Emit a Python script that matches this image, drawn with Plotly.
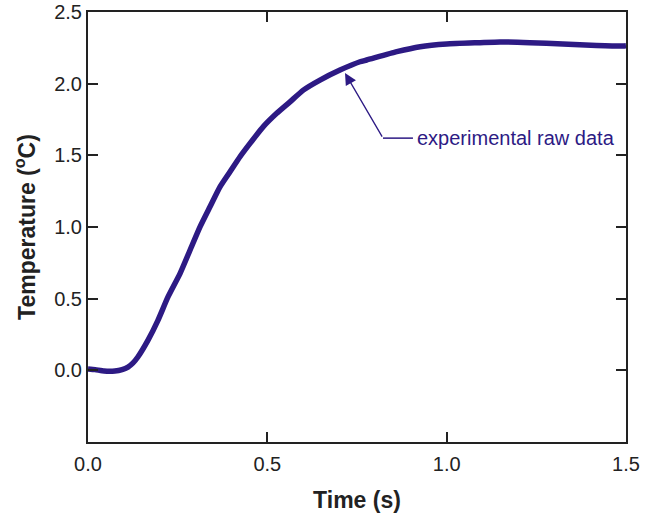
import plotly.graph_objects as go

time_s = [0.0, 0.02, 0.045, 0.075, 0.095, 0.1115, 0.125, 0.139, 0.167, 0.195, 0.223, 0.2565,
          0.2844, 0.3123, 0.3401, 0.368, 0.3959, 0.4238, 0.4517, 0.4888, 0.5261, 0.5632,
          0.6003, 0.6468, 0.7026, 0.7584, 0.777, 0.861, 0.926, 1.000, 1.093, 1.149, 1.232,
          1.324, 1.418, 1.492, 1.5]
temp_c = [0.01, 0.005, -0.005, -0.005, 0.005, 0.023, 0.05, 0.093, 0.209, 0.349, 0.512, 0.675,
          0.838, 1.001, 1.141, 1.280, 1.385, 1.490, 1.583, 1.700, 1.793, 1.873,
          1.955, 2.025, 2.095, 2.153, 2.165, 2.223, 2.258, 2.277, 2.286, 2.291, 2.286,
          2.277, 2.267, 2.263, 2.265]

x_ticks = [0.0, 0.5, 1.0, 1.5]
y_ticks = [0.0, 0.5, 1.0, 1.5, 2.0, 2.5]

arrow_tip = (0.7165, 2.074)
arrow_tail = (0.8225, 1.62)
leader_end = 0.906
label_x = 0.912

line_color = "#2d1a84"
axis_color = "#222222"
font_family = "Liberation Sans, Arial"

fig = go.Figure()
fig.add_trace(go.Scatter(x=time_s, y=temp_c, mode="lines",
                         line=dict(color=line_color, width=5.5, shape="spline", smoothing=0.5),
                         showlegend=False))

fig.add_shape(type="line", x0=arrow_tail[0], y0=arrow_tail[1], x1=leader_end, y1=arrow_tail[1],
              xref="x", yref="y", line=dict(color=line_color, width=1.5))
fig.add_annotation(x=arrow_tip[0], y=arrow_tip[1], ax=arrow_tail[0], ay=arrow_tail[1],
                   axref="x", ayref="y", xref="x", yref="y", text="", showarrow=True,
                   arrowhead=2, arrowsize=1.8, arrowwidth=1.3, arrowcolor=line_color, standoff=0)
fig.add_annotation(x=label_x, y=arrow_tail[1], xref="x", yref="y", text="experimental raw data",
                   showarrow=False, xanchor="left", yanchor="middle",
                   font=dict(family=font_family, size=20, color=line_color))

axis_common = dict(showgrid=False, zeroline=False, showline=True, linecolor=axis_color, linewidth=2,
                   mirror="ticks", ticks="inside", ticklen=10, tickwidth=1.5, tickcolor=axis_color,
                   automargin=False,
                   tickfont=dict(family=font_family, size=20, color=axis_color))

fig.update_xaxes(range=[0, 1.5], tickvals=x_ticks, ticktext=[f"{v:.1f}" for v in x_ticks],
                 ticklabelstandoff=3,
                 title=dict(text="<b>Time (s)</b>", standoff=18,
                            font=dict(family=font_family, size=23, color=axis_color)),
                 **axis_common)
fig.update_yaxes(range=[-0.5, 2.5], tickvals=y_ticks, ticktext=[f"{v:.1f}" for v in y_ticks],
                 title=dict(text="<b>Temperature (<sup>o</sup>C)</b>", standoff=12,
                            font=dict(family=font_family, size=23, color=axis_color)),
                 **axis_common)

fig.update_layout(width=652, height=515, margin=dict(l=88, r=26, t=12, b=73),
                  plot_bgcolor="white", paper_bgcolor="white")

fig.write_html("out.html")
